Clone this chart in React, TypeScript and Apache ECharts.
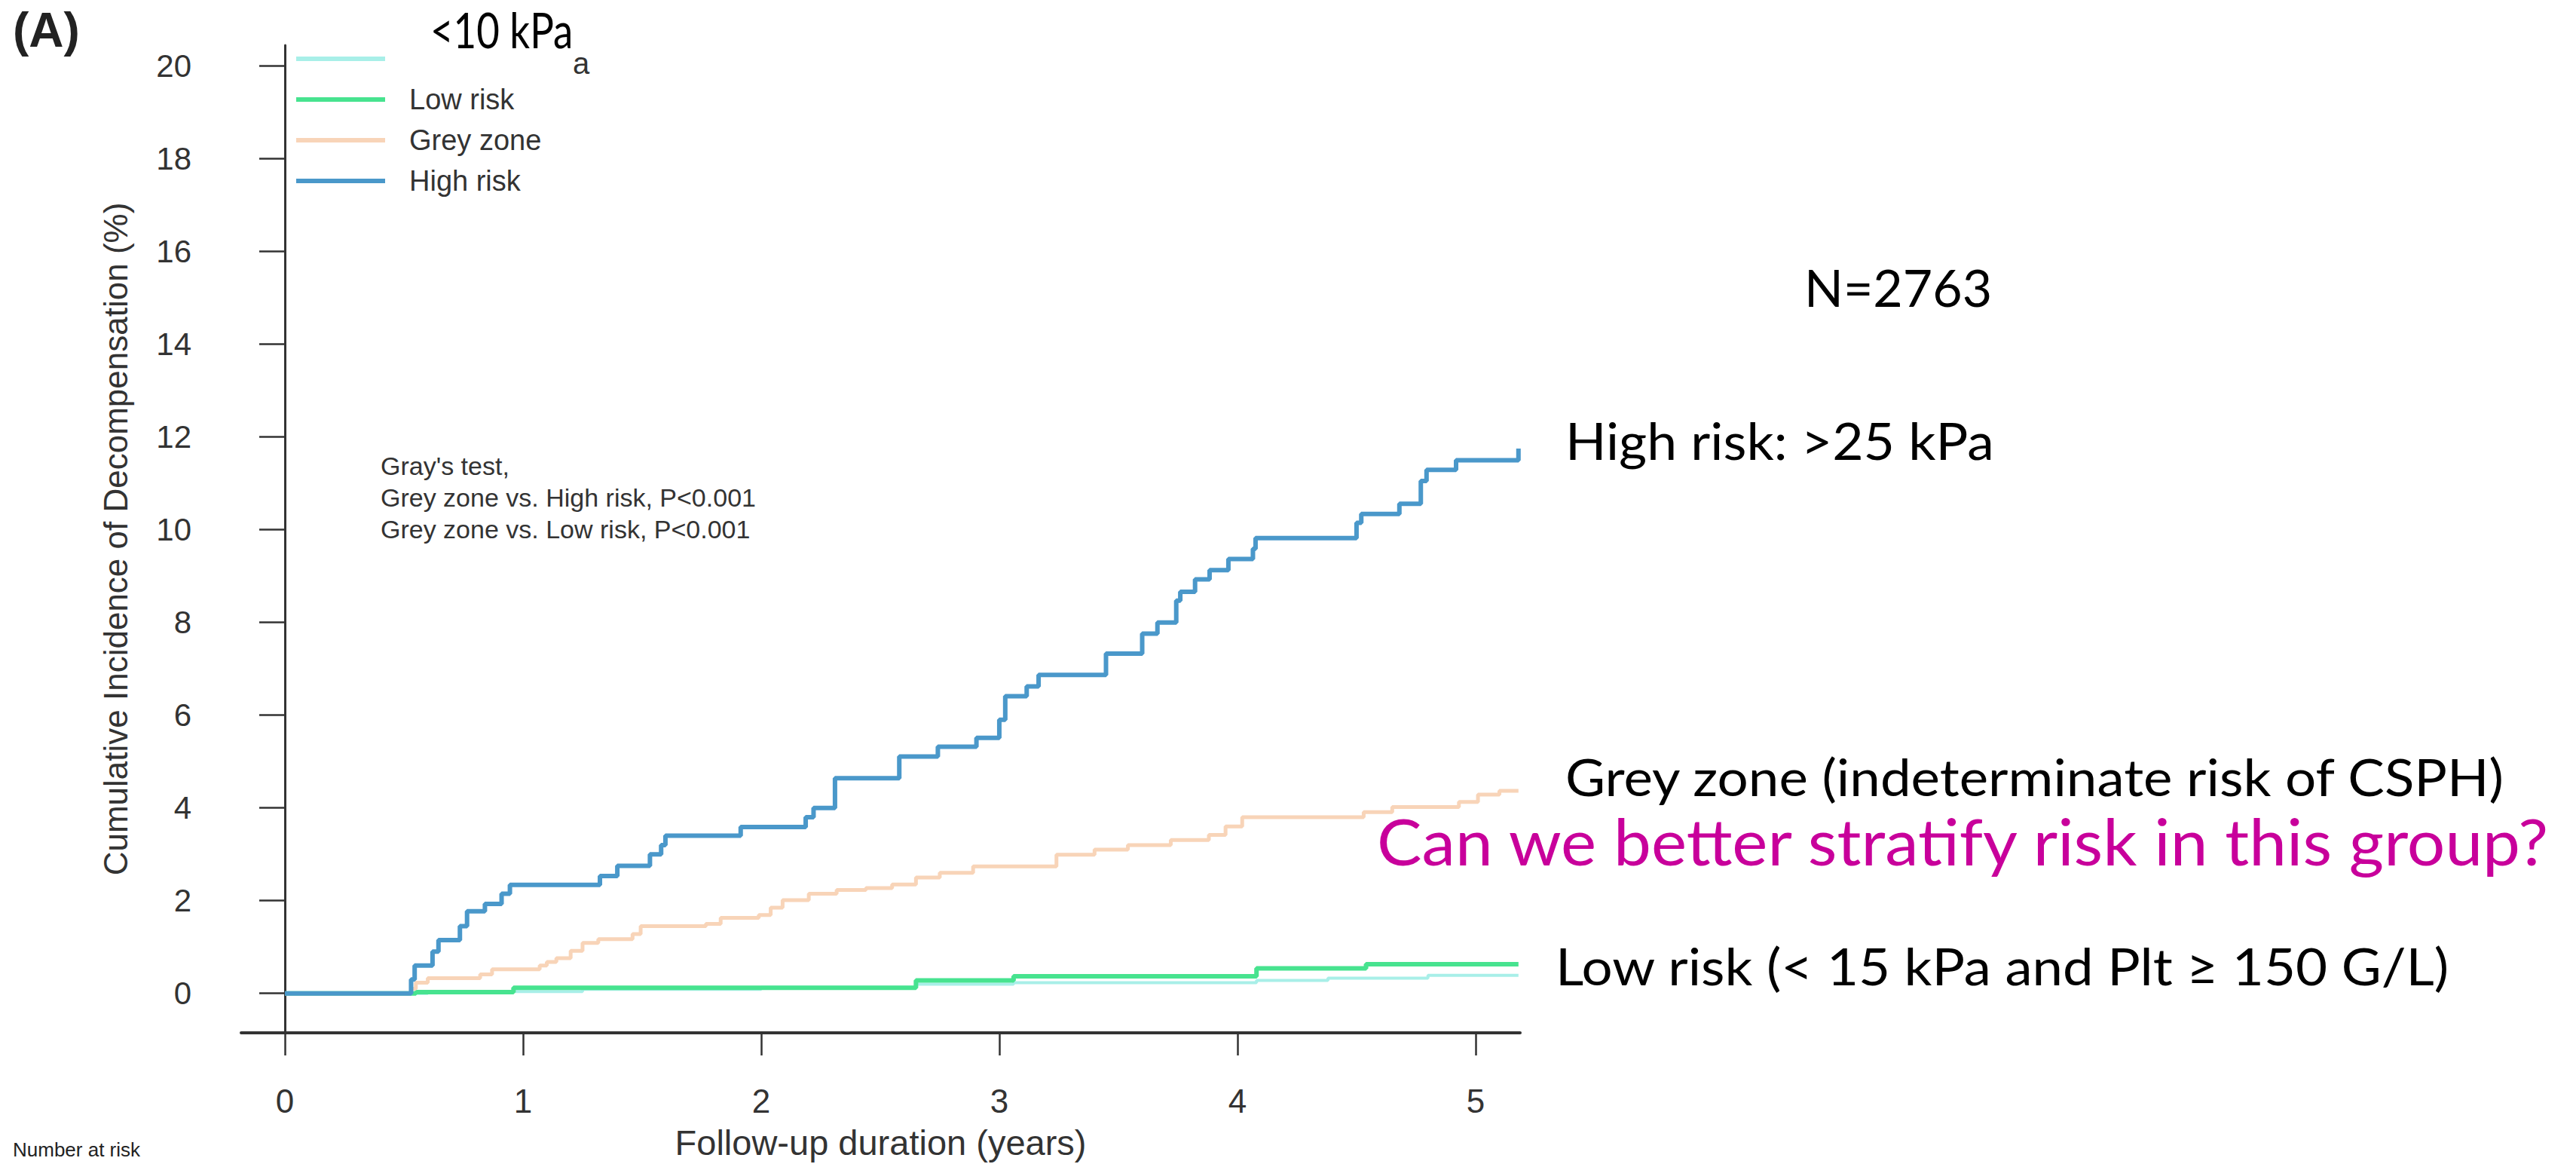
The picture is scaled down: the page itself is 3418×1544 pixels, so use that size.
import React, { useEffect, useRef } from "react";
import * as echarts from "echarts";

// Step times (years) and cumulative incidence (%) that holds from each time on
const lsmTimes = [0, 0.6, 1.25, 2.0, 2.65, 3.06, 4.08, 4.38, 4.8, 5.18];
const lsmValues = [0, 0.04, 0.09, 0.13, 0.2, 0.23, 0.28, 0.33, 0.39, 0.39];

const lowTimes = [0, 0.55, 0.96, 2.65, 3.06, 4.08, 4.54, 5.18];
const lowValues = [0, 0.03, 0.12, 0.28, 0.37, 0.54, 0.63, 0.63];

const greyTimes = [
  0, 0.53, 0.55, 0.6, 0.82, 0.87, 1.07, 1.1, 1.14, 1.2, 1.25, 1.316, 1.46, 1.494,
  1.768, 1.83, 1.99, 2.04, 2.09, 2.2, 2.317, 2.44, 2.55, 2.65, 2.75, 2.89, 3.24,
  3.4, 3.54, 3.72, 3.88, 3.95, 4.02, 4.53, 4.65, 4.93, 5.01, 5.1, 5.18,
];
const greyValues = [
  0, 0.1, 0.23, 0.33, 0.41, 0.52, 0.6, 0.68, 0.76, 0.92, 1.09, 1.17, 1.28, 1.45,
  1.5, 1.63, 1.69, 1.85, 2.01, 2.15, 2.23, 2.27, 2.35, 2.5, 2.6, 2.74, 2.99,
  3.1, 3.2, 3.31, 3.42, 3.6, 3.8, 3.91, 4.02, 4.13, 4.29, 4.37, 4.37,
];

const highTimes = [
  0, 0.53, 0.545, 0.62, 0.645, 0.735, 0.765, 0.84, 0.91, 0.945, 1.323, 1.396,
  1.533, 1.58, 1.598, 1.914, 2.187, 2.22, 2.31, 2.58, 2.742, 2.904, 3.0, 3.025,
  3.115, 3.165, 3.448, 3.6, 3.664, 3.743, 3.76, 3.822, 3.883, 3.962, 4.065,
  4.076, 4.5, 4.52, 4.68, 4.77, 4.794, 4.918, 5.18,
];
const highValues = [
  0, 0.3, 0.6, 0.9, 1.15, 1.45, 1.77, 1.93, 2.15, 2.34, 2.53, 2.75,
  3.0, 3.2, 3.4, 3.59, 3.8, 4.0, 4.64, 5.11, 5.32, 5.51, 5.9, 6.41,
  6.62, 6.87, 7.33, 7.76, 8.0, 8.47, 8.66, 8.93, 9.13, 9.37, 9.59,
  9.82, 10.15, 10.34, 10.56, 11.05, 11.29, 11.5, 11.75,
];

const seriesNames = ["<10 kPa", "Low risk", "Grey zone", "High risk"];
const seriesColors = ["#a8efe8", "#47e38f", "#f8d4b8", "#4a98ca"];
const seriesWidths = [4, 6, 5, 6];
const seriesTimes = [lsmTimes, lowTimes, greyTimes, highTimes];
const seriesValues = [lsmValues, lowValues, greyValues, highValues];

const xTickValues = [0, 1, 2, 3, 4, 5];
const yTickValues = [0, 2, 4, 6, 8, 10, 12, 14, 16, 18, 20];

const grayTestLines = [
  "Gray's test,",
  "Grey zone vs. High risk, P<0.001",
  "Grey zone vs. Low risk, P<0.001",
];

const plotFont = "'Liberation Sans', Arial, sans-serif";
const slideFont = "Lato, 'Open Sans', sans-serif";

export default function App() {
  const ref = useRef<HTMLDivElement>(null);

  useEffect(() => {
    if (!ref.current) return;
    const chart = echarts.init(ref.current, undefined, { renderer: "svg" });

    const series = seriesNames.map((name, i) => ({
      name,
      type: "line",
      step: "end",
      showSymbol: false,
      color: seriesColors[i],
      z: 2 + i,
      lineStyle: { width: seriesWidths[i], color: seriesColors[i] },
      data: seriesTimes[i].map((t, k) => [t, seriesValues[i][k]]),
    }));

    const slideText = (
      text: string,
      x: number,
      y: number,
      size: number,
      fill: string,
      scaleX = 1
    ) => ({
      type: "text",
      x,
      y,
      scaleX,
      z: 20,
      style: {
        text,
        fontFamily: slideFont,
        fontSize: size,
        fill,
        align: "left",
        textAlign: "left",
        verticalAlign: "top",
        textVerticalAlign: "top",
      },
    });

    chart.setOption({
      animation: false,
      backgroundColor: "#ffffff",
      grid: { left: 320, right: 1401, top: 60, bottom: 151 },
      xAxis: {
        type: "value",
        min: -0.1835,
        max: 5.187,
        name: "Follow-up duration (years)",
        nameLocation: "middle",
        nameGap: 122,
        nameTextStyle: { fontFamily: plotFont, fontSize: 47, color: "#333" },
        splitLine: { show: false },
        axisLine: { onZero: false, lineStyle: { color: "#333", width: 4 } },
        axisTick: {
          customValues: xTickValues,
          length: 30,
          lineStyle: { color: "#333", width: 2.5 },
        },
        axisLabel: {
          customValues: xTickValues,
          margin: 68,
          fontFamily: plotFont,
          fontSize: 44,
          color: "#333",
        },
      },
      yAxis: {
        type: "value",
        min: -0.85,
        max: 20.45,
        name: "Cumulative Incidence of Decompensation (%)",
        nameLocation: "middle",
        nameGap: 145,
        nameTextStyle: { fontFamily: plotFont, fontSize: 44, color: "#333" },
        splitLine: { show: false },
        axisLine: { show: true, lineStyle: { color: "#333", width: 3 } },
        axisTick: {
          show: true,
          customValues: yTickValues,
          length: 34,
          lineStyle: { color: "#333", width: 2.5 },
        },
        axisLabel: {
          customValues: yTickValues,
          margin: 66,
          fontFamily: plotFont,
          fontSize: 42,
          color: "#333",
        },
      },
      legend: {
        orient: "vertical",
        left: 388,
        top: 45,
        icon: "rect",
        itemWidth: 118,
        itemHeight: 6,
        itemGap: -2,
        selectedMode: false,
        data: seriesNames,
        formatter: (name: string) => (name === seriesNames[0] ? " " : name),
        textStyle: {
          fontFamily: plotFont,
          fontSize: 38,
          color: "#333",
          lineHeight: 40,
          padding: [16, 0, 0, 27],
        },
      },
      graphic: [
        {
          type: "text",
          x: 17,
          y: 8,
          z: 20,
          style: {
            text: "(A)",
            fontFamily: plotFont,
            fontWeight: "bold",
            fontSize: 64,
            fill: "#222",
          },
        },
        slideText("<10 kPa", 571, 6, 66, "#000000", 0.8),
        {
          type: "text",
          x: 760,
          y: 64,
          z: 20,
          style: { text: "a", fontFamily: plotFont, fontSize: 40, fill: "#333" },
        },
        {
          type: "text",
          x: 505,
          y: 597,
          z: 20,
          style: {
            text: grayTestLines.join("\n"),
            fontFamily: plotFont,
            fontSize: 34,
            lineHeight: 42,
            fill: "#333",
          },
        },
        slideText("N=2763", 2394, 346, 68, "#000000", 1.0),
        slideText("High risk: >25 kPa", 2077, 550, 68, "#000000", 1.05),
        slideText("Grey zone (indeterminate risk of CSPH)", 2077, 995, 68, "#000000", 1.07),
        slideText("Can we better stratify risk in this group?", 1827, 1072, 86, "#c8009b", 1.037),
        slideText("Low risk (< 15 kPa and Plt \u2265 150 G/L)", 2064, 1247, 68, "#000000", 1.067),
        {
          type: "text",
          x: 17,
          y: 1512,
          z: 20,
          style: {
            text: "Number at risk",
            fontFamily: plotFont,
            fontSize: 26,
            fill: "#222",
          },
        },
      ],
      series,
    });

    return () => chart.dispose();
  }, []);

  return (
    <div
      ref={ref}
      style={{ position: "absolute", left: 0, top: 0, width: 3418, height: 1544 }}
    />
  );
}
